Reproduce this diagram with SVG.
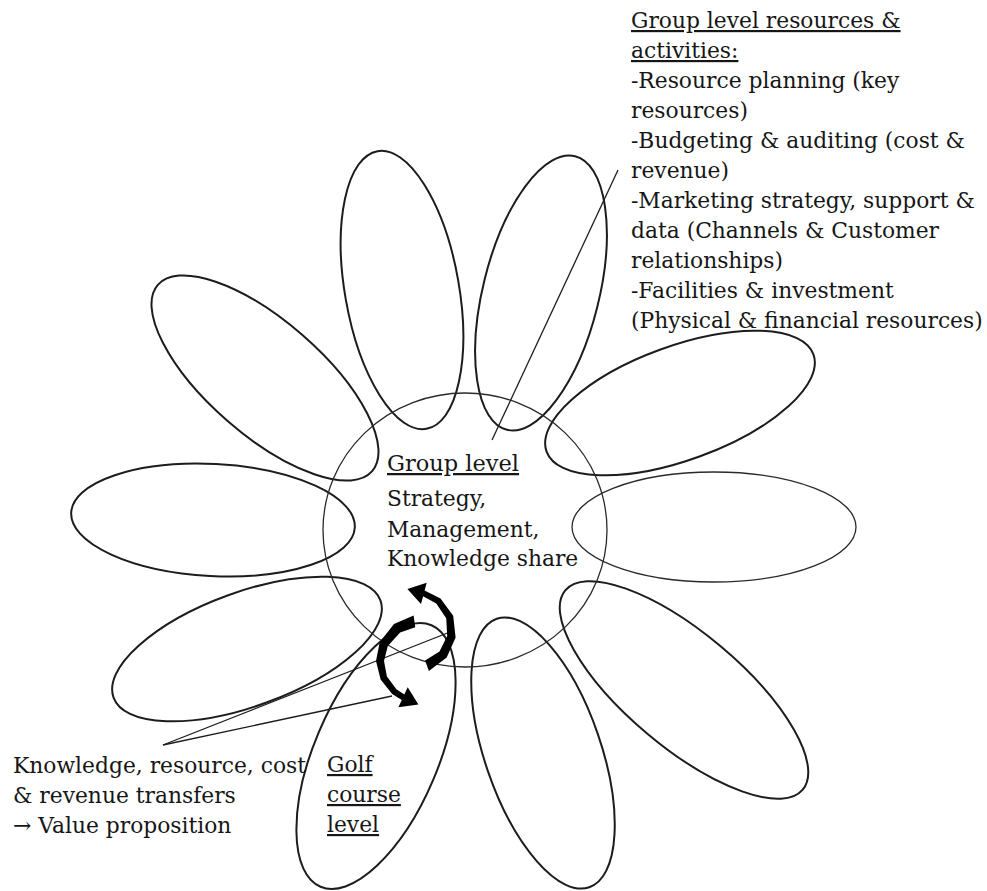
<svg xmlns="http://www.w3.org/2000/svg" width="987" height="891" viewBox="0 0 987 891">
  <style>
    .petal { fill: none; stroke: #1c1c1c; stroke-width: 2; }
    .thin { fill: none; stroke: #2a2a2a; stroke-width: 1.3; }
    .lead { fill: none; stroke: #1c1c1c; stroke-width: 1.3; }
    .cycle { fill: #000; stroke: none; }
    text { font-family: "DejaVu Serif", "Liberation Serif", serif; font-size: 21.8px; fill: #161616; }
    .u { text-decoration: underline; }
  </style>
  <rect width="987" height="891" fill="#fff"/>

  <!-- flower: ten petals around the hub -->
  <g id="petal-top-left"><ellipse class="petal" cx="0" cy="0" rx="57" ry="141" transform="translate(402 290) rotate(-10)"/></g>
  <g id="petal-top-right"><ellipse class="petal" cx="0" cy="0" rx="58" ry="141" transform="translate(541 293) rotate(14)"/></g>
  <g id="petal-upper-left"><ellipse class="petal" cx="0" cy="0" rx="142" ry="57" transform="translate(265 378) rotate(41)"/></g>
  <g id="petal-upper-right"><ellipse class="petal" cx="0" cy="0" rx="142" ry="57" transform="translate(680 403) rotate(-20)"/></g>
  <g id="petal-left"><ellipse class="petal" cx="0" cy="0" rx="142" ry="56" transform="translate(213 520) rotate(3)"/></g>
  <g id="petal-right"><ellipse class="thin" cx="714" cy="527" rx="142" ry="55"/></g>
  <g id="petal-lower-left"><ellipse class="petal" cx="0" cy="0" rx="142" ry="57" transform="translate(247 649) rotate(-20)"/></g>
  <g id="petal-lower-right"><ellipse class="petal" cx="0" cy="0" rx="155" ry="57" transform="translate(684 690) rotate(40)"/></g>
  <g id="petal-golf-course"><ellipse class="petal" cx="0" cy="0" rx="62" ry="142" transform="translate(376 756) rotate(23)"/></g>
  <g id="petal-bottom"><ellipse class="petal" cx="0" cy="0" rx="58" ry="142" transform="translate(543 753) rotate(-19)"/></g>

  <!-- hub -->
  <g id="group-level">
    <ellipse class="thin" cx="465" cy="530" rx="142" ry="137"/>
    <text x="387" y="471" class="u" style="font-size:22.5px">Group level</text>
    <text x="387" y="506">Strategy,</text>
    <text x="387" y="537">Management,</text>
    <text x="387" y="566">Knowledge share</text>
  </g>

  <!-- group-level notes -->
  <g id="group-resources">
    <text x="631" y="28" class="u">Group level resources &amp;</text>
    <text x="631" y="58" class="u">activities:</text>
    <text x="631" y="88">-Resource planning (key</text>
    <text x="631" y="118">resources)</text>
    <text x="631" y="148">-Budgeting &amp; auditing (cost &amp;</text>
    <text x="631" y="178">revenue)</text>
    <text x="631" y="208">-Marketing strategy, support &amp;</text>
    <text x="631" y="238">data (Channels &amp; Customer</text>
    <text x="631" y="268">relationships)</text>
    <text x="631" y="298">-Facilities &amp; investment</text>
    <text x="631" y="328">(Physical &amp; financial resources)</text>
  </g>

  <!-- transfers note -->
  <g id="transfers">
    <text x="13" y="773">Knowledge, resource, cost</text>
    <text x="13" y="803">&amp; revenue transfers</text>
    <text x="13" y="833">→ Value proposition</text>
  </g>

  <!-- golf course label -->
  <g id="golf-course-level">
    <text x="327" y="772" class="u">Golf</text>
    <text x="327" y="802" class="u">course</text>
    <text x="327" y="832" class="u">level</text>
  </g>

  <!-- leader lines and exchange arrows -->
  <g id="connectors">
    <line class="lead" x1="618" y1="170" x2="492" y2="440"/>
    <line class="lead" x1="163" y1="745" x2="450" y2="632"/>
    <line class="lead" x1="163" y1="745" x2="392" y2="696"/>
    <path class="cycle" d="M428.9 670.9 L446.7 657.5 L455.6 637.4 L453.2 615.7 L440.5 598.4 L424.6 590.4 L426.7 582.7 L407.4 588.9 L421.0 603.9 L423.1 596.2 L436.3 603.4 L446.2 618.3 L447.2 635.9 L439.5 651.4 L425.1 660.6 Z"/>
    <path class="cycle" d="M413.6 615.5 L394.0 623.9 L379.7 642.2 L376 661 L380.6 679.4 L392.2 694.1 L401.8 700.0 L398.4 707.2 L418.4 704.5 L407.7 687.3 L404.3 694.5 L396.4 689.2 L386.9 676.4 L384 661 L387.8 646.0 L400.1 632.5 L415.3 627.3 Z"/>
  </g>
</svg>
